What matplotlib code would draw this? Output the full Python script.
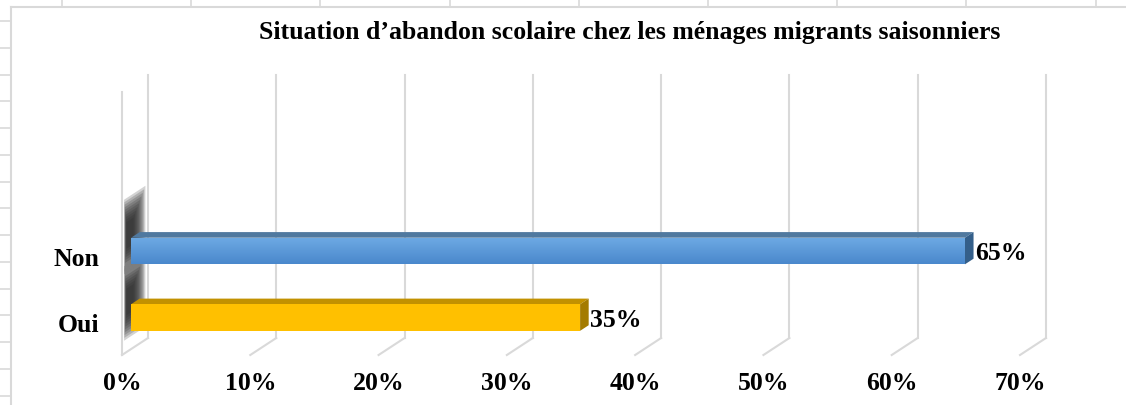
import matplotlib
matplotlib.use("Agg")
import matplotlib.pyplot as plt
import numpy as np
from matplotlib.patches import Polygon
from matplotlib.lines import Line2D

# Data
categories = ["Oui", "Non"]
values = [0.35, 0.65]
ticks = [0, 0.1, 0.2, 0.3, 0.4, 0.5, 0.6, 0.7]
tick_labels = ["0%", "10%", "20%", "30%", "40%", "50%", "60%", "70%"]
title = "Situation d\u2019abandon scolaire chez les ménages migrants saisonniers"

front_colors = ["#ffc000", "#5b9bd5"]
top_colors = ["#c29100", "#50799f"]
side_colors = ["#a47b00", "#345f8a"]

W, H = 1126, 405
fig = plt.figure(figsize=(W / 100, H / 100), dpi=100)
fig.patch.set_facecolor("white")

# spreadsheet cells behind the chart
grid_c = "#d9d9d9"
fig.add_artist(Line2D([11 / W, 1], [1 - 7 / H, 1 - 7 / H], color=grid_c, lw=1.5))
fig.add_artist(Line2D([11 / W, 11 / W], [0, 1 - 7 / H], color=grid_c, lw=1.5))
for cx in np.arange(62, W, 129.2):
    fig.add_artist(Line2D([cx / W, cx / W], [1 - 7 / H, 1], color=grid_c, lw=1.2))
for ry in np.arange(21, H, 26.75):
    fig.add_artist(Line2D([0, 11 / W], [1 - ry / H, 1 - ry / H], color=grid_c, lw=1.2))

# plot axes = front plane of the 3D box
ax = fig.add_axes([122 / W, 50 / H, 898 / W, 263 / H])
ylow, yhigh = -0.474, 3.48
ax.set_xlim(0, 0.7)
ax.set_ylim(ylow, yhigh)
ax.set_facecolor("none")
for s in ax.spines.values():
    s.set_visible(False)

# depth vector in data units (full depth of the box)
DX = 26 / (898 / 0.7)
DY = 17 / 66.5
d0, dd = 0.35, 0.33   # bar front depth, bar thickness
h = 0.4

wall_c = "#d9d9d9"
# gridlines on back wall and floor
for t in ticks:
    ax.plot([t + DX, t + DX], [ylow + DY, yhigh + DY], color=wall_c, lw=1.5, clip_on=False, zorder=1)
    ax.plot([t, t + DX], [ylow, ylow + DY], color=wall_c, lw=1.5, clip_on=False, zorder=1)
# left wall front edge
ax.plot([0, 0], [ylow, yhigh], color=wall_c, lw=1.5, clip_on=False, zorder=1)

# blurred shadow of the bars on the left wall
for cat in range(len(categories)):
    c = cat + 0.28
    for k in range(10):
        ext = 0.56 - k * 0.04
        lo = max(c - ext, ylow)
        hi = c + ext
        a, b = 0.08 + k * 0.01, 0.9 - k * 0.05
        pts = [(a * DX, lo + a * DY), (a * DX, hi + a * DY),
               (b * DX, hi + b * DY), (b * DX, lo + b * DY)]
        ax.add_patch(Polygon(pts, closed=True, facecolor="#262626", edgecolor="none",
                             alpha=0.2, zorder=2, clip_on=False))

# bars
ypos = np.arange(len(categories))
bars = ax.barh(ypos + d0 * DY, values, left=d0 * DX, height=h,
               color=front_colors, edgecolor="none", zorder=4)
for i, (y, v) in enumerate(zip(ypos, values)):
    x0 = d0 * DX
    x1 = v + d0 * DX
    yc = y + d0 * DY
    yt, yb = yc + h / 2, yc - h / 2
    top = [(x0, yt), (x1, yt), (x1 + dd * DX, yt + dd * DY), (x0 + dd * DX, yt + dd * DY)]
    side = [(x1, yb), (x1, yt), (x1 + dd * DX, yt + dd * DY), (x1 + dd * DX, yb + dd * DY)]
    ax.add_patch(Polygon(top, closed=True, facecolor=top_colors[i], edgecolor="none", zorder=3))
    ax.add_patch(Polygon(side, closed=True, facecolor=side_colors[i], edgecolor="none", zorder=3))
    ax.text(x1 + dd * DX + 0.001, yc - 0.04, f"{v:.0%}", ha="left", va="center",
            family="Liberation Serif", fontweight="bold", fontsize=18.5, zorder=5)

# gradient on blue front face
bar = bars[1]
grad = np.linspace(0, 1, 64).reshape(-1, 1)
cmap = matplotlib.colors.LinearSegmentedColormap.from_list("g", ["#6eaae4", "#4a88cc"])
im = ax.imshow(grad, cmap=cmap, aspect="auto", zorder=4,
               extent=[bar.get_x(), bar.get_x() + bar.get_width(),
                       bar.get_y(), bar.get_y() + bar.get_height()], origin="upper")
im.set_clip_path(bar)
ax.set_xlim(0, 0.7)
ax.set_ylim(ylow, yhigh)

ax.set_xticks(ticks, tick_labels)
ax.set_yticks(ypos, categories)
ax.tick_params(length=0)
ax.tick_params(axis="x", pad=12)
ax.tick_params(axis="y", pad=16)
for lab in ax.get_xticklabels() + ax.get_yticklabels():
    lab.set_fontfamily("Liberation Serif")
    lab.set_fontweight("bold")
    lab.set_fontsize(18.5)

fig.text(630 / W, 1 - 32 / H, title, ha="center", va="center",
         family="Liberation Serif", fontweight="bold", fontsize=18.5)

fig.savefig("out.png", dpi=100)
